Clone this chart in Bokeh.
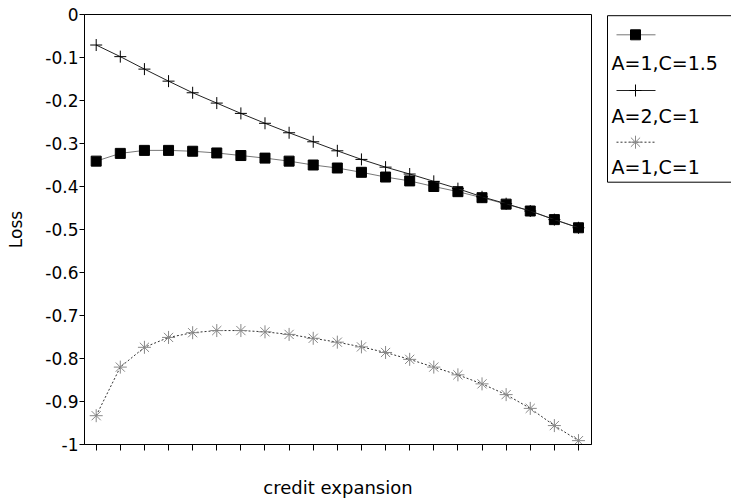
from bokeh.plotting import figure
from bokeh.layouts import row
from bokeh.models import Range1d, FixedTicker
from bokeh.embed import file_html
from bokeh.resources import INLINE
from bokeh.core.properties import value

# ---- data ----
x_idx = list(range(1, 22))
loss_a1_c15 = [-0.341, -0.323, -0.316, -0.316, -0.318, -0.322, -0.328, -0.334, -0.341, -0.350,
               -0.357, -0.367, -0.378, -0.387, -0.400, -0.412, -0.426, -0.441, -0.457, -0.477, -0.496]
loss_a2_c1 = [-0.071, -0.098, -0.127, -0.155, -0.182, -0.206, -0.230, -0.253, -0.275, -0.296,
              -0.317, -0.337, -0.355, -0.371, -0.388, -0.405, -0.424, -0.440, -0.457, -0.477, -0.496]
loss_a1_c1 = [-0.933, -0.820, -0.774, -0.751, -0.740, -0.735, -0.735, -0.738, -0.744, -0.753,
              -0.762, -0.773, -0.786, -0.802, -0.820, -0.838, -0.859, -0.884, -0.916, -0.956, -0.991]
y_ticks = [0, -0.1, -0.2, -0.3, -0.4, -0.5, -0.6, -0.7, -0.8, -0.9, -1]
y_tick_labels = ["0", "-0.1", "-0.2", "-0.3", "-0.4", "-0.5", "-0.6", "-0.7", "-0.8", "-0.9", "-1"]
series_labels = ["A=1,C=1.5", "A=2,C=1", "A=1,C=1"]
x_label = "credit expansion"
y_label = "Loss"

FONT = "DejaVu Sans"
H = 500
PW = 605
FRAME_TOP = 14
FRAME_BOTTOM = 444

p = figure(width=PW, height=H, x_range=Range1d(0.515, 21.54), y_range=Range1d(-1, 0),
           output_backend="svg", toolbar_location=None,
           min_border_left=84, min_border_right=14, min_border_top=FRAME_TOP,
           min_border_bottom=H - FRAME_BOTTOM)
p.grid.grid_line_color = None
p.outline_line_color = "black"
p.outline_line_width = 1
p.background_fill_color = "white"
p.border_fill_color = "white"

ya = p.yaxis[0]
ya.ticker = FixedTicker(ticks=y_ticks)
ya.major_label_overrides = {t: l for t, l in zip(y_ticks, y_tick_labels)}
ya.major_tick_out = 5
ya.major_tick_in = 0
ya.minor_tick_out = 0
ya.minor_tick_in = 0
ya.major_label_standoff = 1
ya.major_label_text_font = FONT
ya.major_label_text_font_size = "17px"
ya.major_label_text_color = "black"
ya.axis_label = y_label
ya.axis_label_text_font = FONT
ya.axis_label_text_font_size = "17px"
ya.axis_label_text_font_style = "normal"
ya.axis_label_text_color = "black"
ya.axis_label_standoff = 16
ya.axis_line_color = "black"

xa = p.xaxis[0]
xa.ticker = FixedTicker(ticks=x_idx)
xa.major_label_overrides = {t: "" for t in x_idx}
xa.major_tick_out = 6
xa.major_tick_in = 0
xa.minor_tick_out = 0
xa.minor_tick_in = 0
xa.major_label_standoff = 0
xa.axis_label = x_label
xa.axis_label_text_font = FONT
xa.axis_label_text_font_size = "18px"
xa.axis_label_text_font_style = "normal"
xa.axis_label_text_color = "black"
xa.axis_label_standoff = 26
xa.axis_line_color = "black"

styles = [
    dict(line_color="#777777", line_width=1, line_dash="solid", marker="square", size=10,
         m_line="black", m_fill="black"),
    dict(line_color="#222222", line_width=1, line_dash="solid", marker="cross", size=12,
         m_line="black", m_fill=None),
    dict(line_color="#333333", line_width=1, line_dash="2 2", marker="asterisk", size=13,
         m_line="#888888", m_fill=None),
]
series = [loss_a1_c15, loss_a2_c1, loss_a1_c1]

for ys, st in zip(series, styles):
    p.line(x_idx, ys, line_color=st["line_color"], line_width=st["line_width"], line_dash=st["line_dash"])
    p.scatter(x_idx, ys, marker=st["marker"], size=st["size"], line_color=st["m_line"],
              fill_color=st["m_fill"], line_width=1)

# ---- legend panel (frame is aligned with the main plot's frame in the row) ----
LW = 126
leg = figure(width=LW, height=H, x_range=Range1d(0, LW), y_range=Range1d(FRAME_BOTTOM, FRAME_TOP),
             output_backend="svg", toolbar_location=None, min_border=0,
             min_border_left=0, min_border_right=0,
             min_border_top=FRAME_TOP, min_border_bottom=H - FRAME_BOTTOM,
             x_axis_location=None, y_axis_location=None)
leg.grid.grid_line_color = None
leg.outline_line_color = None
leg.quad(left=[2], right=[200], top=[15.2], bottom=[181.7], fill_color=None, line_color="black", line_width=1)

glyph_rows = [34.3, 90.0, 141.7]
label_rows = [62.7, 115.0, 166.7]
for lab, st, gy, ly in zip(series_labels, styles, glyph_rows, label_rows):
    leg.line([11, 50], [gy, gy], line_color=st["line_color"], line_width=1, line_dash=st["line_dash"])
    leg.scatter([30], [gy], marker=st["marker"], size=st["size"], line_color=st["m_line"],
                fill_color=st["m_fill"], line_width=1)
    leg.text(x=[6], y=[ly], text=[lab], text_font=value(FONT), text_font_size="19px",
             text_baseline="middle", text_align="left", text_color="black")

layout = row(p, leg)
open("out.html", "w").write(file_html(layout, INLINE))
